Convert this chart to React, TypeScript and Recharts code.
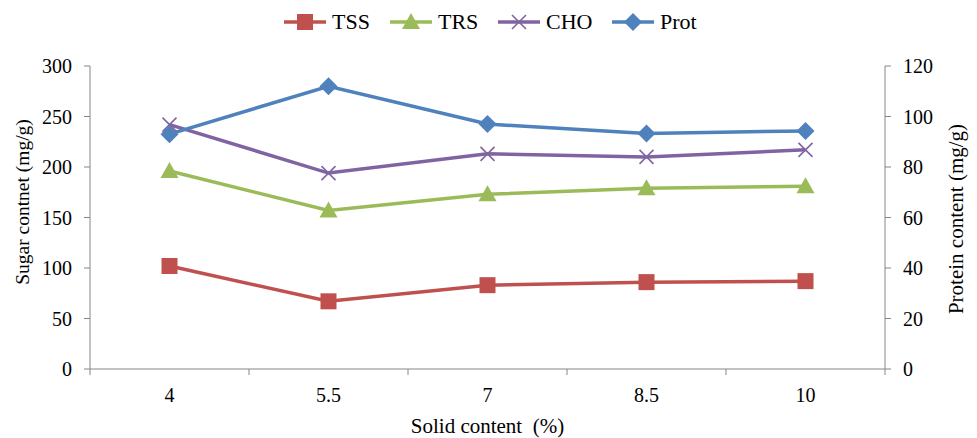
import { ComposedChart, Line, XAxis, YAxis, Legend } from 'recharts'

const categories = ['4', '5.5', '7', '8.5', '10']
const tss = [102, 67, 83, 86, 87]
const trs = [196, 157, 173, 179, 181]
const cho = [242, 194, 213, 210, 217]
const prot = [93, 112, 97, 93.3, 94.3]

const sugarTicks = [0, 50, 100, 150, 200, 250, 300]
const proteinTicks = [0, 20, 40, 60, 80, 100, 120]

const data = categories.map((c, i) => ({
  solid: c,
  TSS: tss[i],
  TRS: trs[i],
  CHO: cho[i],
  Prot: prot[i],
}))

const W = 977
const H = 438
const LEFT = 90
const RIGHT = 92
const FONT = '"Liberation Serif", "Times New Roman", serif'
const AXIS = '#868686'
const HALF_BAND = (W - LEFT - RIGHT) / categories.length / 2
const textStyle = { fontFamily: FONT, fill: '#000' }

const series = [
  { key: 'TSS', color: '#C0504D', marker: 'square', axis: 'sugar' },
  { key: 'TRS', color: '#9BBB59', marker: 'triangle', axis: 'sugar' },
  { key: 'CHO', color: '#8064A2', marker: 'cross', axis: 'sugar' },
  { key: 'Prot', color: '#4F81BD', marker: 'diamond', axis: 'protein' },
]

function Marker({ kind, color, cx, cy }: { kind: string; color: string; cx: number; cy: number }) {
  if (kind === 'square') return <rect x={cx - 8} y={cy - 8} width={16} height={16} fill={color} />
  if (kind === 'triangle')
    return <polygon points={`${cx},${cy - 9} ${cx + 9},${cy + 7} ${cx - 9},${cy + 7}`} fill={color} />
  if (kind === 'cross')
    return (
      <g stroke={color} strokeWidth={1.6}>
        <line x1={cx - 7} y1={cy - 7} x2={cx + 7} y2={cy + 7} />
        <line x1={cx - 7} y1={cy + 7} x2={cx + 7} y2={cy - 7} />
      </g>
    )
  return <polygon points={`${cx},${cy - 9} ${cx + 9},${cy} ${cx},${cy + 9} ${cx - 9},${cy}`} fill={color} />
}

const dotFor = (kind: string, color: string) => (p: any) => (
  <Marker key={`${kind}-${p.index}`} kind={kind} color={color} cx={p.cx} cy={p.cy} />
)

function LegendBox() {
  const slots = [284, 390, 498, 612]
  return (
    <svg width={W} height={34} style={{ display: 'block' }}>
      {series.map((s, i) => {
        const x = slots[i]
        return (
          <g key={s.key}>
            <line x1={x} x2={x + 42} y1={22} y2={22} stroke={s.color} strokeWidth={3.5} />
            <Marker kind={s.marker} color={s.color} cx={x + 21} cy={22} />
            <text x={x + 48} y={29} style={{ ...textStyle, fontSize: 22 }}>
              {s.key}
            </text>
          </g>
        )
      })}
    </svg>
  )
}

function CategoryTick({ x, y, payload, index }: any) {
  const axisY = y - 18
  return (
    <g>
      <line x1={x - HALF_BAND} x2={x - HALF_BAND} y1={axisY} y2={axisY + 6} stroke={AXIS} />
      {index === categories.length - 1 && (
        <line x1={x + HALF_BAND} x2={x + HALF_BAND} y1={axisY} y2={axisY + 6} stroke={AXIS} />
      )}
      <text x={x} y={y + 1} dy="0.71em" textAnchor="middle" style={{ ...textStyle, fontSize: 20 }}>
        {payload.value}
      </text>
    </g>
  )
}

function VerticalTitle({ x, y, size, text }: { x: number; y: number; size: number; text: string }) {
  return (
    <text
      x={x}
      y={y}
      transform={`rotate(-90, ${x}, ${y})`}
      textAnchor="middle"
      dominantBaseline="central"
      style={{ ...textStyle, fontSize: size }}
    >
      {text}
    </text>
  )
}

export default function App() {
  return (
    <div style={{ position: 'absolute', left: 0, top: 0, background: '#fff' }}>
      <ComposedChart width={W} height={H} data={data} margin={{ top: 32, right: 0, bottom: 0, left: 0 }}>
        <Legend
          verticalAlign="top"
          height={34}
          wrapperStyle={{ top: 0, left: 0 }}
          content={() => <LegendBox />}
        />
        <XAxis
          dataKey="solid"
          scale="band"
          height={69}
          stroke={AXIS}
          tickLine={false}
          tickSize={0}
          tickMargin={18}
          tick={<CategoryTick />}
          label={{
            value: 'Solid content\u00A0 (%)',
            position: 'insideBottom',
            offset: 5,
            style: { ...textStyle, fontSize: 21 },
          }}
        />
        <YAxis
          yAxisId="sugar"
          width={LEFT}
          domain={[0, 300]}
          ticks={sugarTicks}
          stroke={AXIS}
          tickSize={6}
          tickMargin={12}
          tick={{ style: { ...textStyle, fontSize: 20 } }}
          label={({ viewBox }: any) => (
            <VerticalTitle x={viewBox.x + 22} y={202} size={19.5} text="Sugar contnet (mg/g)" />
          )}
        />
        <YAxis
          yAxisId="protein"
          orientation="right"
          width={RIGHT}
          domain={[0, 120]}
          ticks={proteinTicks}
          stroke={AXIS}
          tickSize={6}
          tickMargin={12}
          tick={{ style: { ...textStyle, fontSize: 20 } }}
          label={({ viewBox }: any) => (
            <VerticalTitle x={viewBox.x + 71} y={219} size={21} text="Protein content (mg/g)" />
          )}
        />
        {series.map((s) => (
          <Line
            key={s.key}
            yAxisId={s.axis}
            dataKey={s.key}
            type="linear"
            stroke={s.color}
            strokeWidth={3.5}
            dot={dotFor(s.marker, s.color)}
            activeDot={false}
            isAnimationActive={false}
          />
        ))}
      </ComposedChart>
    </div>
  )
}
